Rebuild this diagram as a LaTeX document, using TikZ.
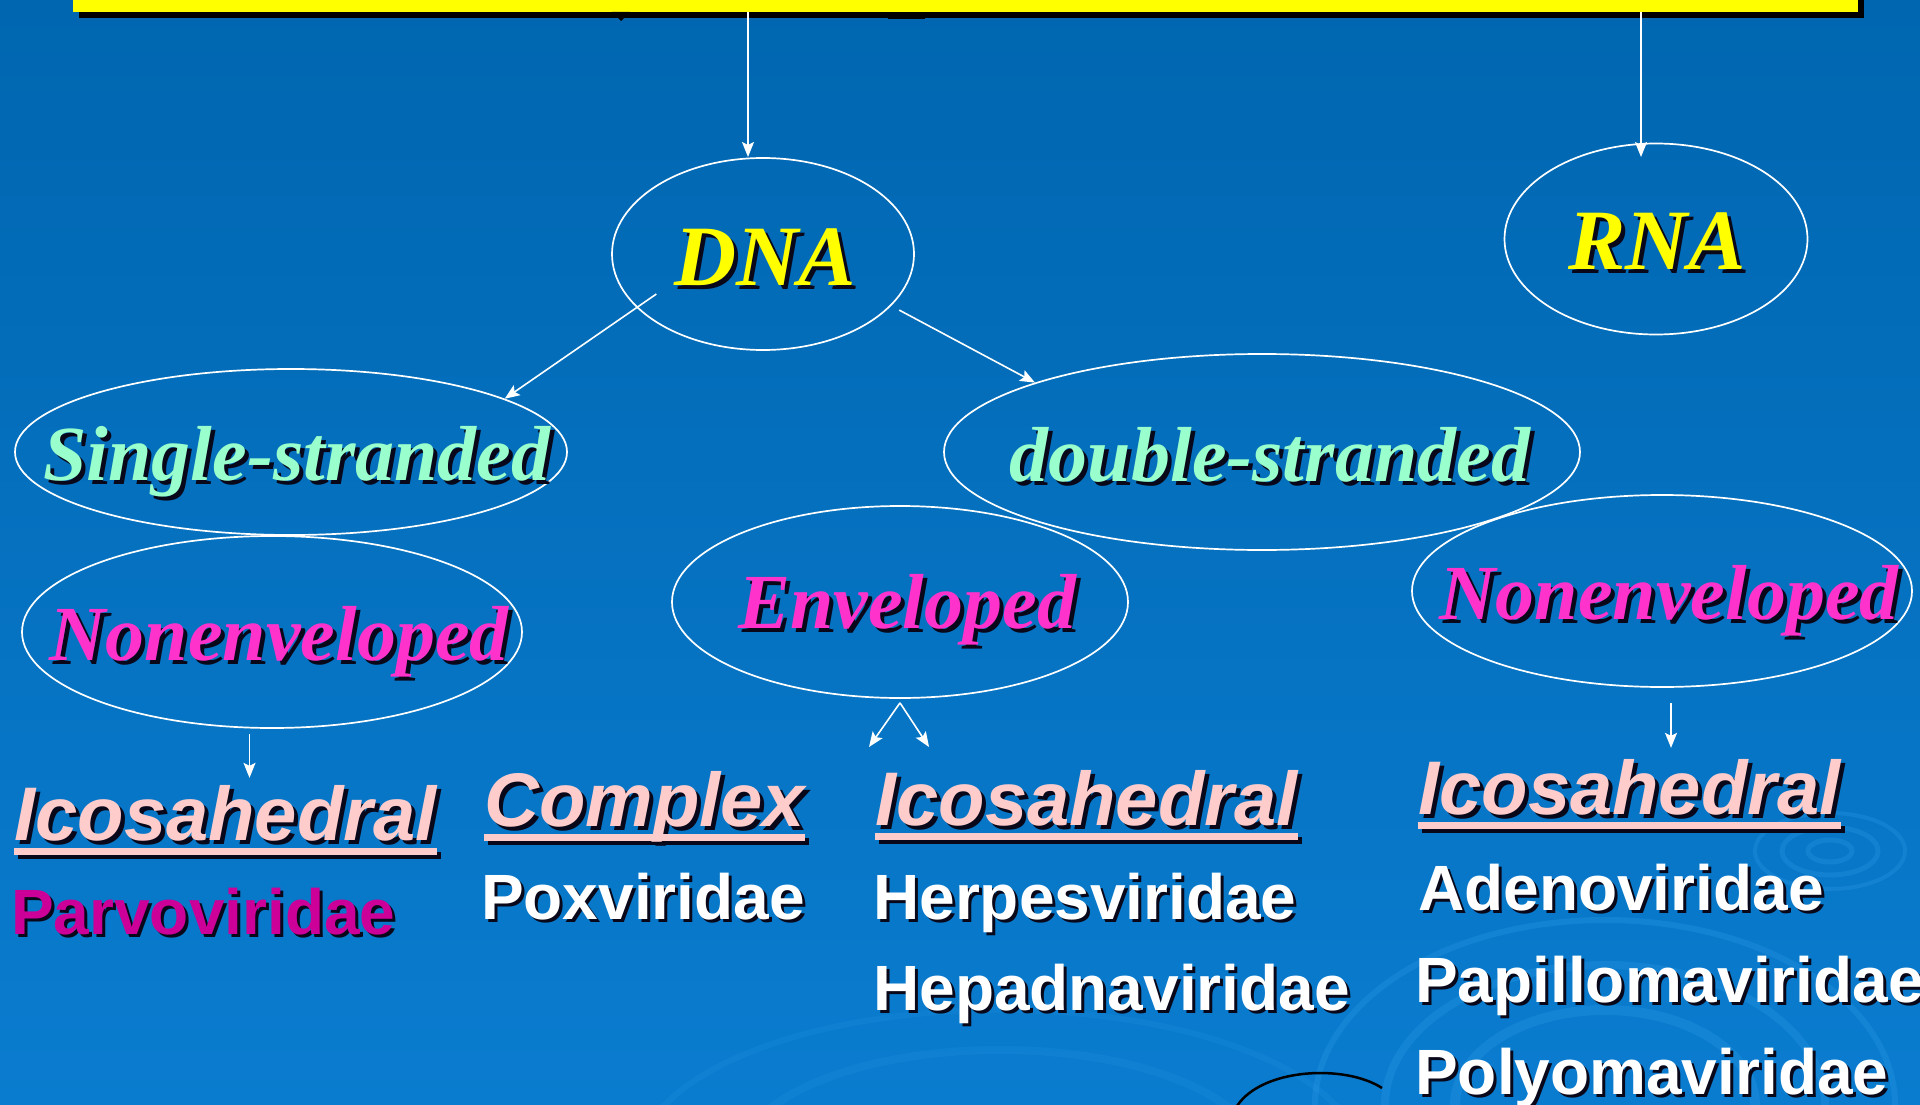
\documentclass[tikz,border=0pt]{standalone}
\usepackage{fontspec}
\setmainfont{Liberation Serif}
\newfontfamily\sansf{Liberation Sans}
\usetikzlibrary{shapes.geometric,arrows.meta,calc}
\definecolor{bgtop}{HTML}{0066B0}
\definecolor{bgbot}{HTML}{0A7CCF}
\definecolor{ylw}{HTML}{FFFF00}
\definecolor{mint}{HTML}{99FFCC}
\definecolor{mag}{HTML}{FF33CC}
\definecolor{pinkc}{HTML}{FFCCCC}
\definecolor{parvo}{HTML}{CC0099}
\definecolor{shadowc}{HTML}{08081A}
\definecolor{ripple}{HTML}{3AA6F0}
\newsavebox\ulbox
\newcommand\shtxt[3]{%
 \makebox[0pt][l]{\kern#1\raisebox{-#1}{\textcolor{shadowc}{#3}}}\textcolor{#2}{#3}}
\newcommand\ultxt[3]{%
 \sbox\ulbox{#3}%
 \makebox[0pt][l]{\kern#1\raisebox{-#1}{\color{shadowc}\rlap{\rule[-15pt]{\wd\ulbox}{7.5pt}}#3}}%
 {\color{#2}\rlap{\rule[-15pt]{\wd\ulbox}{7.5pt}}#3}}
\begin{document}
\begin{tikzpicture}[x=1pt,y=-1pt,
 oval/.style={ellipse, draw=white, line width=1.7pt, inner sep=0pt},
 serifl/.style={font=\fontsize{78}{80}\selectfont\bfseries\itshape, inner sep=0pt, anchor=base},
 bigl/.style={font=\fontsize{86}{88}\selectfont\bfseries\itshape, inner sep=0pt, anchor=base},
 sanshead/.style={font=\fontsize{76}{78}\selectfont\sansf\bfseries\itshape, inner sep=0pt, anchor=base west},
 fam/.style={font=\fontsize{64}{66}\selectfont\sansf\bfseries, inner sep=0pt, anchor=base west},
 arr/.style={draw=white, line width=1.6pt, -{Stealth[length=15pt,width=12pt,inset=3pt]}},
 rip/.style={draw=ripple, opacity=.22}]
\useasboundingbox (0,0) rectangle (1920,1105);
\clip (0,0) rectangle (1920,1105);
\shade[top color=bgtop, bottom color=bgbot] (0,0) rectangle (1920,1105);
% ripples
\draw[rip, line width=5pt] (1830,851) ellipse [x radius=22, y radius=11];
\draw[rip, line width=5pt] (1830,851) ellipse [x radius=48, y radius=24];
\draw[rip, line width=4pt] (1830,851) ellipse [x radius=75, y radius=38];
\draw[rip, line width=10pt] (1605,1105) ellipse [x radius=150, y radius=95];
\draw[rip, line width=8pt] (1605,1105) ellipse [x radius=220, y radius=140];
\draw[rip, line width=6pt] (1605,1105) ellipse [x radius=290, y radius=185];
\draw[rip, line width=8pt, opacity=.12] (1000,1160) ellipse [x radius=260, y radius=110];
\draw[rip, line width=6pt, opacity=.12] (1000,1160) ellipse [x radius=360, y radius=150];
% black arc at bottom
\draw[black, line width=2.5pt] (1237,1106) .. controls (1262,1068) and (1345,1064) .. (1382,1088);
% title bar
\fill[black] (79,-20) rectangle (1864,18);
\node[fill=ylw, anchor=south west, minimum width=1785pt, minimum height=60pt, inner sep=0pt] (title) at (73,12) {};
\fill[black] (612,12) -- (630,12) -- (621,21) -- cycle;
\fill[black] (888,12) rectangle (925,19);
% ellipses
\node[oval, minimum width=302pt, minimum height=192pt] (dna) at (763,254) {};
\node[oval, minimum width=303pt, minimum height=191pt] (rna) at (1656,239) {};
\node[oval, minimum width=552pt, minimum height=166pt] (ss) at (291,452) {};
\node[oval, minimum width=636pt, minimum height=196pt] (ds) at (1262,452) {};
\node[oval, minimum width=500pt, minimum height=192pt] (nl) at (272,632) {};
\node[oval, minimum width=456pt, minimum height=192pt] (env) at (900,602) {};
\node[oval, minimum width=500pt, minimum height=192pt] (nr) at (1662,591) {};
% ellipse labels
\node[bigl] (dnat) at (765,285) {\shtxt{4pt}{ylw}{DNA}};
\node[bigl] (rnat) at (1657,269) {\shtxt{4pt}{ylw}{RNA}};
\node[serifl] (sst) at (297,480) {\shtxt{4pt}{mint}{Single-stranded}};
\node[serifl] (dst) at (1270,481) {\shtxt{4pt}{mint}{double-stranded}};
\node[serifl] (nlt) at (279,660) {\shtxt{4pt}{mag}{Nonenveloped}};
\node[serifl] (envt) at (907,628) {\shtxt{4pt}{mag}{Enveloped}};
\node[serifl] (nrt) at (1669,619) {\shtxt{4pt}{mag}{Nonenveloped}};
% connectors
\coordinate (dnain) at (748,157);
\coordinate (rnain) at (1641,157);
\draw[arr] (title.south -| dnain) -- (dnain);
\draw[arr] (title.south -| rnain) -- (rnain);
\draw[arr, shorten <=-24pt] (dna.203) -- (ss.14);
\draw[arr, shorten <=9pt] (dna.-22) -- (ds.163);
\coordinate (envtop) at ([yshift=-4pt]env.south);
\coordinate (cxtip) at (869,747);
\coordinate (ictip) at (929,747);
\draw[arr] (envtop) -- (cxtip);
\draw[arr] (envtop) -- (ictip);
\draw[arr] ([xshift=-22.5pt,yshift=-5pt]nl.south) -- ++(0,44);
\draw[arr] ([xshift=9pt,yshift=-15pt]nr.south) -- ++(0,45);
% classes
\node[sanshead] (ico1) at (14,840) {\ultxt{4pt}{pinkc}{Icosahedral}};
\node[sanshead] (cplx) at (484,826) {\ultxt{4pt}{pinkc}{Complex}};
\node[sanshead] (ico2) at (875,825) {\ultxt{4pt}{pinkc}{Icosahedral}};
\node[sanshead] (ico3) at (1418,814) {\ultxt{4pt}{pinkc}{Icosahedral}};
% families
\node[fam] (parvo) at (11,934) {\shtxt{3pt}{parvo}{Parvoviridae}};
\node[fam] (pox) at (481,919) {\shtxt{3pt}{white}{Poxviridae}};
\node[fam] (herpes) at (873,919) {\shtxt{3pt}{white}{Herpesviridae}};
\node[fam] (hepad) at (873,1010) {\shtxt{3pt}{white}{Hepadnaviridae}};
\node[fam] (adeno) at (1418,910) {\shtxt{3pt}{white}{Adenoviridae}};
\node[fam] (papi) at (1415,1002) {\shtxt{3pt}{white}{Papillomaviridae}};
\node[fam] (polyo) at (1415,1094) {\shtxt{3pt}{white}{Polyomaviridae}};
\end{tikzpicture}
\end{document}
